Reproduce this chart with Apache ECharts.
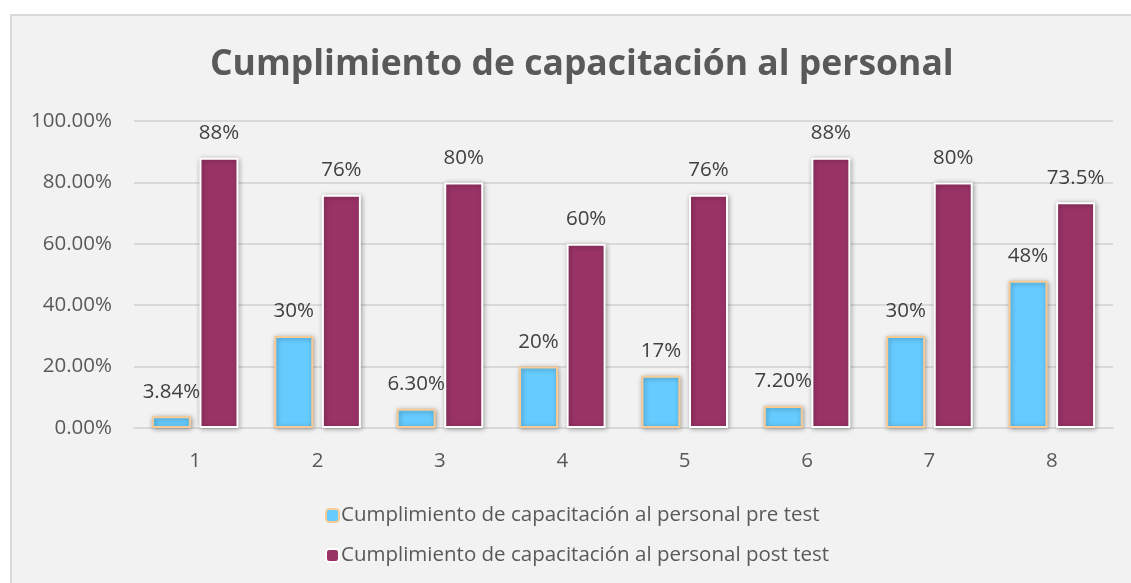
<!DOCTYPE html>
<html>
<head>
<meta charset="utf-8">
<script src="https://cdn.jsdelivr.net/npm/echarts@6/dist/echarts.min.js"></script>
<style>
  html, body { margin: 0; padding: 0; background: #ffffff; }
  #chart { width: 1131px; height: 583px; }
</style>
</head>
<body>
<div id="chart"></div>
<script>
const categories = ['1', '2', '3', '4', '5', '6', '7', '8']
const preValues = [3.84, 30, 6.3, 20, 17, 7.2, 30, 48]
const postValues = [88, 76, 80, 60, 76, 88, 80, 73.5]
const preLabels = ['3.84%', '30%', '6.30%', '20%', '17%', '7.20%', '30%', '48%']
const postLabels = ['88%', '76%', '80%', '60%', '76%', '88%', '80%', '73.5%']
const preName = 'Cumplimiento de capacitación al personal pre test'
const postName = 'Cumplimiento de capacitación al personal post test'

const font = '"Open Sans", "Noto Sans", sans-serif'

let myCharts = echarts.init(document.getElementById('chart'))
let options = {
    backgroundColor: '#ffffff',
    textStyle: { fontFamily: font },
    graphic: [{
        type: 'rect',
        z: -10,
        shape: { x: 11, y: 15, width: 1140, height: 600 },
        style: { fill: '#f2f2f2', stroke: '#d9d9d9', lineWidth: 2 }
    }],
    title: {
        text: 'Cumplimiento de capacitación al personal',
        left: 205,
        top: 42,
        textStyle: { fontSize: 35.5, fontWeight: 'bold', color: '#595959', fontFamily: font }
    },
    legend: {
        orient: 'vertical',
        left: 320,
        top: 500,
        itemGap: 19,
        itemWidth: 13,
        itemHeight: 13,
        data: [preName, postName],
        textStyle: { fontSize: 20.5, color: '#595959', fontFamily: font, padding: [0, 0, 0, -3] }
    },
    grid: { left: 134, right: 18, top: 121, bottom: 155 },
    xAxis: [{
        type: 'category',
        data: categories,
        axisTick: { show: false },
        axisLine: { lineStyle: { color: '#d9d9d9', width: 2 } },
        axisLabel: { fontSize: 20.5, color: '#595959', margin: 23 }
    }],
    yAxis: [{
        type: 'value',
        min: 0,
        max: 100,
        interval: 20,
        axisLabel: {
            fontSize: 20.5,
            color: '#595959',
            margin: 22,
            formatter: v => v.toFixed(2) + '%'
        },
        splitLine: { lineStyle: { color: '#d9d9d9', width: 2 } }
    }],
    series: [
        {
            name: preName,
            type: 'bar',
            data: preValues,
            barWidth: 39,
            barGap: '22%',
            itemStyle: {
                color: '#66ccff',
                borderColor: '#f8cb96',
                borderWidth: 2,
                shadowBlur: 5,
                shadowColor: 'rgba(0,0,0,0.35)',
                shadowOffsetX: 1,
                shadowOffsetY: 1
            },
            label: {
                show: true,
                position: 'top',
                distance: 14,
                fontSize: 20.5,
                color: '#404040',
                formatter: p => preLabels[p.dataIndex]
            }
        },
        {
            name: postName,
            type: 'bar',
            data: postValues,
            barWidth: 39,
            itemStyle: {
                color: '#993366',
                borderColor: '#ffffff',
                borderWidth: 2,
                shadowBlur: 5,
                shadowColor: 'rgba(0,0,0,0.35)',
                shadowOffsetX: 1,
                shadowOffsetY: 1
            },
            label: {
                show: true,
                position: 'top',
                distance: 14,
                fontSize: 20.5,
                color: '#404040',
                formatter: p => postLabels[p.dataIndex]
            }
        }
    ]
}
myCharts.setOption(options)
</script>
</body>
</html>
